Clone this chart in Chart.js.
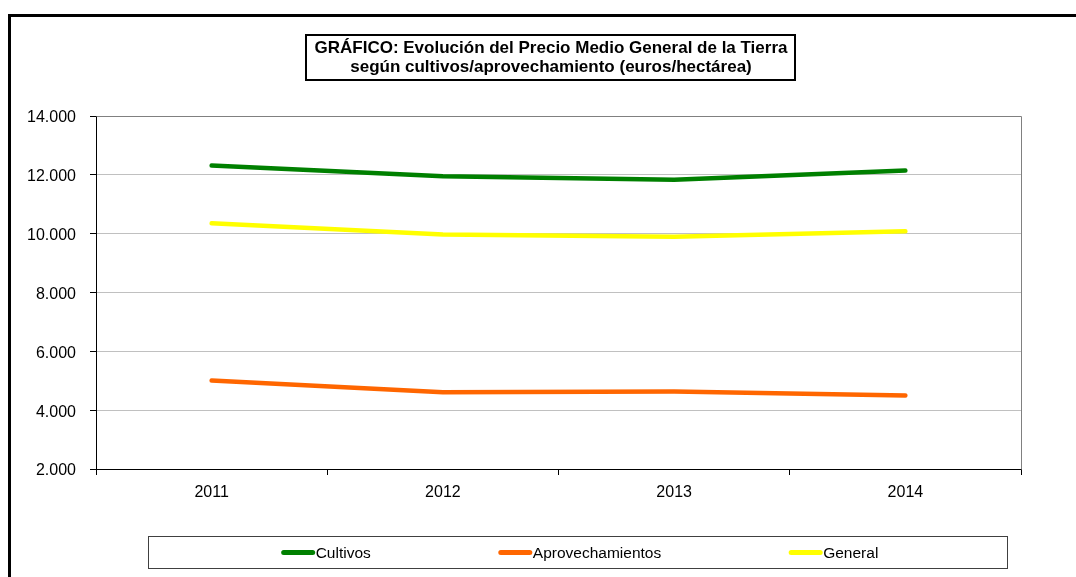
<!DOCTYPE html>
<html>
<head>
<meta charset="utf-8">
<script src="https://cdn.jsdelivr.net/npm/chart.js@4"></script>
<style>
  html, body { margin: 0; padding: 0; background: #ffffff; }
  #c { display: block; }
</style>
</head>
<body>
<canvas id="c" width="1076" height="577"></canvas>
<script>
const categories = ['2011', '2012', '2013', '2014'];
const cultivos = [12317, 11950, 11830, 12147];
const aprovechamientos = [5008, 4613, 4634, 4497];
const general = [10351, 9968, 9898, 10078];
const titleLines = ['GRÁFICO: Evolución del Precio Medio General de la Tierra', 'según cultivos/aprovechamiento (euros/hectárea)'];
const yMin = 2000, yMax = 14000, yStep = 2000;

function fmt(v) { return String(v).replace(/\B(?=(\d{3})+(?!\d))/g, '.'); }

const FONT = '"Liberation Sans", Arial, sans-serif';

const decor = {
  id: 'decor',
  beforeDraw(chart) {
    const ctx = chart.ctx;
    ctx.save();
    ctx.fillStyle = '#fff';
    ctx.fillRect(0, 0, chart.width, chart.height);
    // outer frame
    ctx.strokeStyle = '#000';
    ctx.lineWidth = 3;
    ctx.beginPath();
    ctx.moveTo(9.5, chart.height + 5);
    ctx.lineTo(9.5, 15.5);
    ctx.lineTo(chart.width + 5, 15.5);
    ctx.stroke();
    ctx.restore();
  },
  afterDatasetsDraw(chart) {
    const ctx = chart.ctx;
    const a = chart.chartArea;
    ctx.save();
    // plot border top & right
    ctx.strokeStyle = '#808080';
    ctx.lineWidth = 1;
    ctx.beginPath();
    ctx.moveTo(Math.round(a.left) + 0.5, Math.round(a.top) + 0.5);
    ctx.lineTo(Math.round(a.right) + 0.5, Math.round(a.top) + 0.5);
    ctx.lineTo(Math.round(a.right) + 0.5, Math.round(a.bottom) + 0.5);
    ctx.stroke();

    // title box
    const bx = 306, by = 35, bw = 489, bh = 45;
    ctx.fillStyle = '#fff';
    ctx.fillRect(bx, by, bw, bh);
    ctx.strokeStyle = '#000';
    ctx.lineWidth = 2;
    ctx.strokeRect(bx, by, bw, bh);
    ctx.fillStyle = '#000';
    ctx.font = 'bold 17px ' + FONT;
    ctx.textAlign = 'center';
    ctx.textBaseline = 'alphabetic';
    ctx.fillText(titleLines[0], bx + bw / 2 + 0.5, 53);
    ctx.fillText(titleLines[1], bx + bw / 2 + 0.5, 72);

    // legend box
    const lx = 148.5, ly = 536.5, lw = 859, lh = 32;
    ctx.strokeStyle = '#404040';
    ctx.lineWidth = 1;
    ctx.strokeRect(lx, ly, lw, lh);
    ctx.font = '15.5px ' + FONT;
    ctx.textAlign = 'left';
    ctx.textBaseline = 'middle';
    const lineLen = 33, gapText = 1, gap = 128;
    const ds = chart.data.datasets;
    const widths = ds.map(d => lineLen + gapText + ctx.measureText(d.label).width);
    const total = widths.reduce((s, w) => s + w, 0) + gap * (ds.length - 1);
    let x = 580 - total / 2;
    const yy = ly + lh / 2;
    ds.forEach((d, i) => {
      ctx.strokeStyle = d.borderColor;
      ctx.lineWidth = 5;
      ctx.lineCap = 'round';
      ctx.beginPath();
      ctx.moveTo(x + 2, yy);
      ctx.lineTo(x + lineLen - 2, yy);
      ctx.stroke();
      ctx.fillStyle = '#000';
      ctx.fillText(d.label, x + lineLen + gapText, yy + 1);
      x += widths[i] + gap;
    });
    ctx.restore();
  }
};

new Chart(document.getElementById('c'), {
  type: 'line',
  data: {
    labels: categories,
    datasets: [
      { label: 'Cultivos', data: cultivos, borderColor: '#008000', backgroundColor: '#008000' },
      { label: 'Aprovechamientos', data: aprovechamientos, borderColor: '#FF6600', backgroundColor: '#FF6600' },
      { label: 'General', data: general, borderColor: '#FFFF00', backgroundColor: '#FFFF00' }
    ]
  },
  options: {
    responsive: false,
    animation: false,
    devicePixelRatio: 1,
    layout: { padding: { top: 116, right: 55, bottom: 68, left: 0 } },
    elements: {
      line: { borderWidth: 4.5, tension: 0, borderCapStyle: 'round', borderJoinStyle: 'round' },
      point: { radius: 0, hoverRadius: 0 }
    },
    plugins: {
      legend: { display: false },
      title: { display: false },
      tooltip: { enabled: false }
    },
    scales: {
      x: {
        offset: true,
        grid: { offset: true, drawOnChartArea: false, drawTicks: true, tickLength: 6, tickColor: '#000', color: '#000' },
        border: { display: true, color: '#000', width: 1 },
        ticks: { color: '#000', font: { family: FONT, size: 16 }, padding: 8, maxRotation: 0 },
        afterFit(s) { s.height = 40; }
      },
      y: {
        min: yMin, max: yMax,
        grid: { color: '#c0c0c0', tickColor: '#000', tickLength: 6, drawTicks: true },
        border: { display: true, color: '#000', width: 1 },
        ticks: { stepSize: yStep, color: '#000', font: { family: FONT, size: 16 }, padding: 14, labelOffset: 2, callback: v => fmt(v) },
        afterFit(s) { s.width = 96; }
      }
    }
  },
  plugins: [decor]
});
</script>
</body>
</html>
